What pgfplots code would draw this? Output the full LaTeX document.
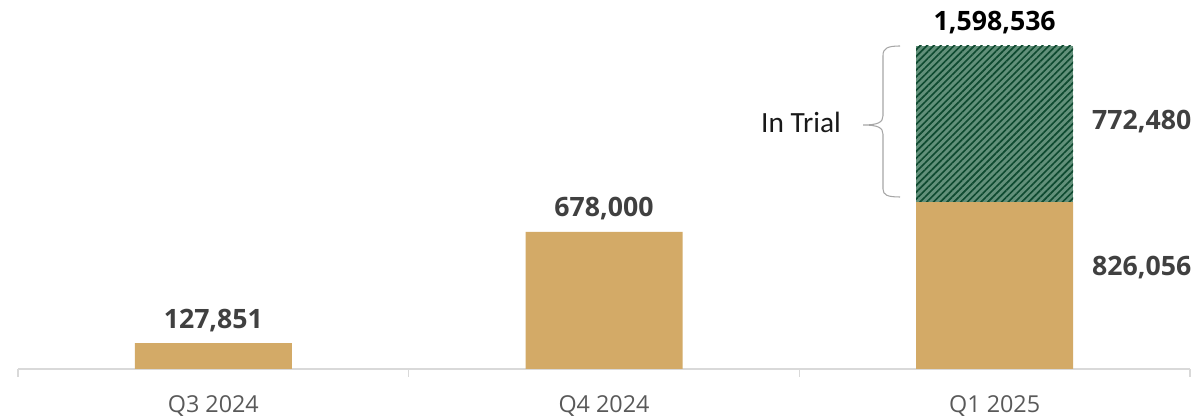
\documentclass[border=0pt]{standalone}
\usepackage{pgfplots}
\pgfplotsset{compat=1.18}
\usepackage{fontspec}
\setmainfont{Open Sans}
\newfontfamily\carlito{Carlito}
\usetikzlibrary{patterns.meta}
\definecolor{tan}{HTML}{D3AA67}
\definecolor{trialgreen}{HTML}{62907A}
\definecolor{trialdark}{HTML}{0E4A30}
\definecolor{axisgrey}{HTML}{D9D9D9}
\definecolor{ticktext}{HTML}{595959}
\definecolor{valtext}{HTML}{404040}
\definecolor{bracegrey}{HTML}{A6A6A6}
\begin{document}
\begin{tikzpicture}[x=1pt,y=1pt]
\begin{axis}[
  at={(0,0)}, anchor=south west,
  scale only axis, width=879pt, height=276.75pt,
  xmin=-0.5, xmax=2.5, ymin=0, ymax=1826200,
  axis x line*=bottom, axis y line=none,
  ybar stacked, bar width=117.75pt,
  xtick={0,1,2}, xticklabels={Q3 2024,Q4 2024,Q1 2025},
  major tick length=0pt,
  minor xtick={-0.5,0.5,1.5,2.5}, minor tick length=6pt, tick align=outside,
  every tick/.style={axisgrey, line width=1.2pt},
  x axis line style={axisgrey, line width=1.5pt},
  ytick=\empty,
  xticklabel style={font=\fontsize{17.5}{20}\selectfont, text=ticktext, yshift=-16.5pt},
  /pgf/number format/assume math mode=true,
  clip=false,
]
\addplot[fill=tan, draw=none] coordinates {(0,127851) (1,678000) (2,826056)};
\addplot[fill=trialgreen, draw=none, postaction={pattern color=trialdark, pattern={Lines[angle=45,distance=3.6pt,line width=1.25pt]}}] coordinates {(0,0) (1,0) (2,772480)};
\node[anchor=center, yshift=17.25pt, font=\fontsize{20}{24}\bfseries, text=valtext] at (axis cs:0,127851) {127,851};
\node[anchor=center, yshift=17.25pt, font=\fontsize{20}{24}\bfseries, text=valtext] at (axis cs:1,678000) {678,000};
\node[anchor=center, yshift=17.25pt, font=\fontsize{20}{24}\bfseries, text=black] at (axis cs:2,1598536) {1,598,536};
\node[anchor=west, inner sep=0pt, font=\fontsize{20}{24}\bfseries, text=valtext] at (axis cs:2.249,1222400) {772,480};
\node[anchor=west, inner sep=0pt, font=\fontsize{20}{24}\bfseries, text=valtext] at (axis cs:2.249,499850) {826,056};
\end{axis}
\draw[bracegrey, line width=0.8pt]
  (661.5,242.25) .. controls (652,242.25) and (648.75,240.5) .. (648.75,235)
  -- (648.75,190) .. controls (648.75,185) and (645,183) .. (633.75,183)
  .. controls (645,183) and (648.75,181) .. (648.75,176)
  -- (648.75,135) .. controls (648.75,130.5) and (652,129) .. (661.5,129);
\node[font=\carlito\fontsize{22}{26}\selectfont, text=black!90] at (587.25,185.25) {In Trial};
\pgfresetboundingbox
\useasboundingbox (-13.5,-35.25) rectangle (883.5,276.75);
\end{tikzpicture}
\end{document}
